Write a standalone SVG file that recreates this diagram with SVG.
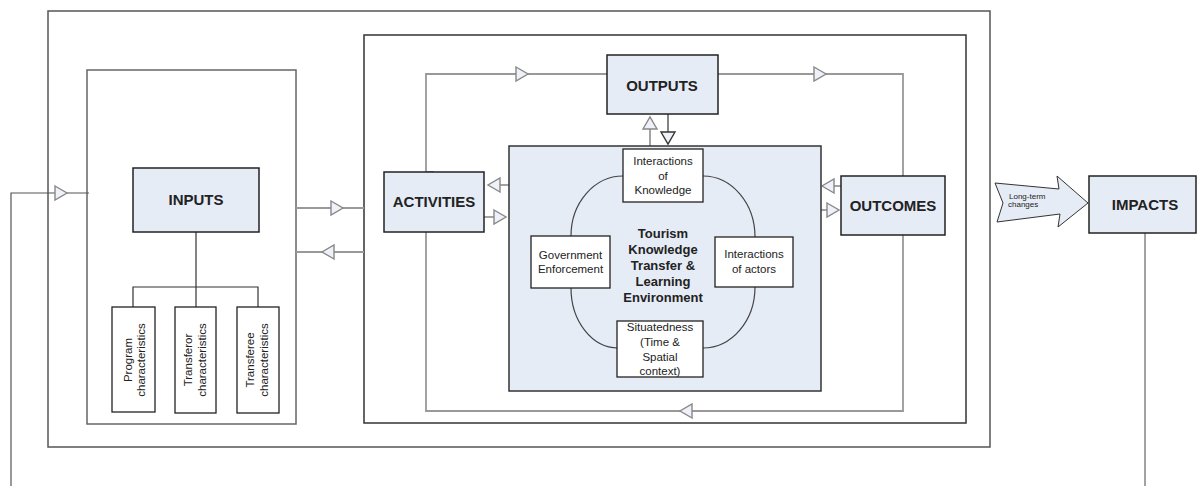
<svg xmlns="http://www.w3.org/2000/svg" xmlns:xlink="http://www.w3.org/1999/xlink" width="1197" height="486" viewBox="0 0 1197 486">
<style>
.frame{fill:none;stroke:#555;stroke-width:1.5}
.box{fill:#e6ecf6;stroke:#222;stroke-width:1.5}
.wbox{fill:#fff;stroke:#222;stroke-width:1.3}
.env{fill:#e6ecf6;stroke:#333;stroke-width:1.5}
.conn{fill:none;stroke:#999;stroke-width:1.8}
.dark{fill:none;stroke:#333;stroke-width:1.2}
.curve{fill:none;stroke:#444;stroke-width:1.2}
.tri{fill:#eef2f8;stroke:#888;stroke-width:1.4}
.lbl{font-family:"Liberation Sans",Arial,sans-serif;font-weight:bold;font-size:15px;fill:#222;text-anchor:middle}
.sm{font-family:"Liberation Sans",Arial,sans-serif;font-size:11.5px;fill:#222;text-anchor:middle}
.ctr{font-family:"Liberation Sans",Arial,sans-serif;font-weight:bold;font-size:13px;fill:#222;text-anchor:middle}
.tiny{font-family:"Liberation Sans",Arial,sans-serif;font-size:8px;fill:#222}
</style>
<defs>
<path id="tri" d="M0,-7 L12,0 L0,7 Z"/>
</defs>

<g id="frames">
<rect class="frame" x="48" y="11" width="942" height="436"/>
<rect class="frame" x="364" y="35" width="602" height="388" style="stroke:#333"/>
<rect class="frame" x="87" y="70" width="209" height="354" style="stroke:#666"/>
</g>

<g id="connectors">
<!-- left feedback -->
<polyline class="dark" points="11,486 11,193 89,193" style="stroke:#555"/>
<use href="#tri" class="tri" transform="translate(55,193)"/>
<!-- impacts down -->
<line class="conn" x1="1145" y1="233" x2="1145" y2="486"/>
<!-- inputs container to middle -->
<line class="conn" x1="296" y1="208" x2="364" y2="208"/>
<use href="#tri" class="tri" transform="translate(331,208)"/>
<line class="conn" x1="296" y1="252" x2="364" y2="252"/>
<use href="#tri" class="tri" transform="translate(334,252) rotate(180)"/>
<!-- inputs tree -->
<polyline class="dark" points="196,232 196,287"/>
<polyline class="dark" points="133,307 133,287 258,287 258,307"/>
<line class="dark" x1="196" y1="287" x2="196" y2="307"/>
<!-- big loop -->
<polyline class="conn" points="434,172 426,172 426,74 607,74"/>
<use href="#tri" class="tri" transform="translate(516,74)"/>
<polyline class="conn" points="718,74 903,74 903,176"/>
<use href="#tri" class="tri" transform="translate(814,74)"/>
<polyline class="conn" points="903,235 903,411 426,411 426,232"/>
<use href="#tri" class="tri" transform="translate(692,411) rotate(180)"/>
<!-- outputs <-> env -->
<line class="conn" x1="650" y1="146" x2="650" y2="129"/>
<use href="#tri" class="tri" transform="translate(650,129) rotate(-90)"/>
<line class="dark" x1="668" y1="114" x2="668" y2="132"/>
<use href="#tri" class="tri" transform="translate(668,132) rotate(90)" style="stroke:#333;fill:#eef2f8"/>
<!-- activities <-> env -->
<line class="conn" x1="499" y1="185" x2="509" y2="185"/>
<use href="#tri" class="tri" transform="translate(500,185) rotate(180)"/>
<line class="conn" x1="484" y1="217" x2="495" y2="217"/>
<use href="#tri" class="tri" transform="translate(494,217)"/>
<!-- outcomes <-> env -->
<line class="conn" x1="833" y1="186" x2="841" y2="186"/>
<use href="#tri" class="tri" transform="translate(834,186) rotate(180)"/>
<line class="conn" x1="821" y1="210" x2="828" y2="210"/>
<use href="#tri" class="tri" transform="translate(827,210)"/>
</g>

<g id="env">
<rect class="env" x="509" y="146" width="312" height="245"/>
<path class="curve" d="M623,176 A52,60 0 0 0 571,236"/>
<path class="curve" d="M571,288 A47,60 0 0 0 618,348"/>
<path class="curve" d="M703,348 A52,61 0 0 0 755,287"/>
<path class="curve" d="M755,237 A52,61 0 0 0 703,176"/>
<text class="ctr"><tspan x="663" y="238">Tourism</tspan><tspan x="663" y="254">Knowledge</tspan><tspan x="663" y="270">Transfer &amp;</tspan><tspan x="663" y="286">Learning</tspan><tspan x="663" y="302">Environment</tspan></text>
</g>

<g id="interactions-knowledge">
<rect class="wbox" x="623" y="149" width="80" height="53"/>
<text class="sm"><tspan x="663" y="165">Interactions</tspan><tspan x="663" y="179.5">of</tspan><tspan x="663" y="194">Knowledge</tspan></text>
</g>
<g id="government">
<rect class="wbox" x="531" y="236" width="79" height="52"/>
<text class="sm"><tspan x="570.5" y="259">Government</tspan><tspan x="570.5" y="273">Enforcement</tspan></text>
</g>
<g id="interactions-actors">
<rect class="wbox" x="715" y="237" width="78" height="50"/>
<text class="sm"><tspan x="754" y="258">Interactions</tspan><tspan x="754" y="273">of actors</tspan></text>
</g>
<g id="situatedness">
<rect class="wbox" x="617" y="321" width="86" height="56"/>
<text class="sm"><tspan x="660" y="331">Situatedness</tspan><tspan x="660" y="345.5">(Time &amp;</tspan><tspan x="660" y="361">Spatial</tspan><tspan x="660" y="375">context)</tspan></text>
</g>

<g id="inputs">
<rect class="box" x="133" y="168" width="126" height="64"/>
<text class="lbl" x="196" y="205">INPUTS</text>
</g>
<g id="program">
<rect class="wbox" x="112" y="307" width="43" height="105"/>
<text class="sm" transform="translate(132,360) rotate(-90)"><tspan x="0" y="0">Program</tspan><tspan x="0" y="13">characteristics</tspan></text>
</g>
<g id="transferor">
<rect class="wbox" x="175" y="307" width="41" height="106"/>
<text class="sm" transform="translate(192,360) rotate(-90)"><tspan x="0" y="0">Transferor</tspan><tspan x="0" y="14">characteristics</tspan></text>
</g>
<g id="transferee">
<rect class="wbox" x="237" y="307" width="42" height="106"/>
<text class="sm" transform="translate(254,360) rotate(-90)"><tspan x="0" y="0">Transferee</tspan><tspan x="0" y="14">characteristics</tspan></text>
</g>

<g id="activities">
<rect class="box" x="384" y="172" width="100" height="60"/>
<text class="lbl" x="434" y="207">ACTIVITIES</text>
</g>
<g id="outputs">
<rect class="box" x="607" y="55" width="111" height="59"/>
<text class="lbl" x="662" y="91">OUTPUTS</text>
</g>
<g id="outcomes">
<rect class="box" x="841" y="176" width="104" height="59"/>
<text class="lbl" x="893" y="211">OUTCOMES</text>
</g>
<g id="long-term">
<path d="M995,183 L1059,189 L1057,176 L1088,203 L1058,227 L1060,214 L997,222 L1003,203 Z" fill="#e6ecf6" stroke="#333" stroke-width="1"/>
<text class="tiny"><tspan x="1009" y="199">Long-term</tspan><tspan x="1008" y="207">changes</tspan></text>
</g>
<g id="impacts">
<rect class="box" x="1089" y="176" width="107" height="57"/>
<text class="lbl" x="1145" y="210">IMPACTS</text>
</g>
</svg>
